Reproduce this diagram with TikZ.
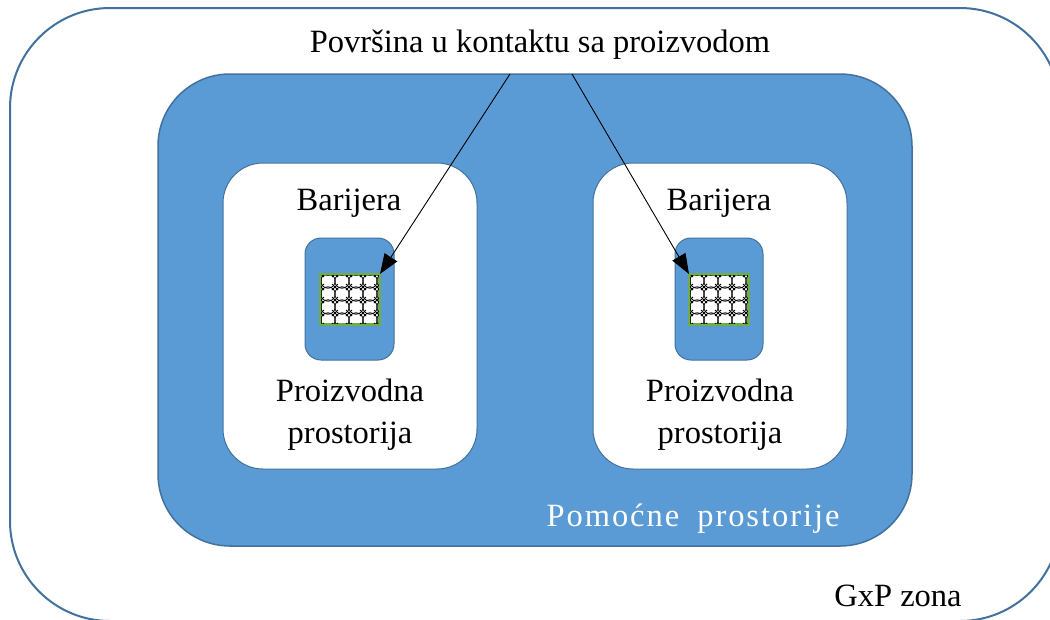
\documentclass[tikz,border=0pt]{standalone}
\usepackage{fontspec}
\setmainfont{Liberation Serif}
\usetikzlibrary{arrows.meta,calc}
\definecolor{fillblue}{HTML}{5B9BD5}
\definecolor{edgeblue}{HTML}{41719C}
\definecolor{hatchgreen}{HTML}{70AD47}
\tikzset{
  box/.style={draw=edgeblue, rectangle, inner sep=0pt},
  lbl/.style={font=\fontsize{32.5}{42}\selectfont, inner sep=0pt, align=center},
  hatchbox/.style={draw=hatchgreen, line width=2pt, rectangle, inner sep=0pt, minimum width=58pt, minimum height=49pt},
  arr/.style={draw=black, line width=0.9pt, -{Triangle[length=20pt,width=15pt]}}
}
\newcommand{\hatchfill}[1]{%
  \begin{scope}
    \clip (#1.south west) rectangle (#1.north east);
    \foreach \i in {-1,...,5}{
      \foreach \j in {-1,...,4}{
        \draw[black, line width=0.8pt] ($(#1.north west)+(\i*14+8,\j*13+7)$) circle[radius=7.2pt];
        \draw[black, line width=0.8pt] ($(#1.north west)+(\i*14+1-3,\j*13-3)$) -- ++(6,6)
          ($(#1.north west)+(\i*14+1+3,\j*13-3)$) -- ++(-6,6);
        \fill[black] ($(#1.north west)+(\i*14+1,\j*13)$) circle[radius=1.2pt];
      }
    }
  \end{scope}
  \draw[hatchgreen, line width=2pt] (#1.south west) rectangle (#1.north east);
}
\begin{document}
\begin{tikzpicture}[x=1pt,y=-1pt]
\useasboundingbox (0,0) rectangle (1050,619);
\clip (0,0) rectangle (1050,619);
% outer GxP zone
\node[box, line width=2pt, fill=white, rounded corners=100pt, minimum width=1050pt, minimum height=613pt] (outer) at (535,314.5) {};
% blue auxiliary rooms
\node[box, line width=1.5pt, fill=fillblue, rounded corners=72pt, minimum width=754pt, minimum height=472pt] (aux) at (535,310) {};
% white production rooms
\node[box, line width=1pt, fill=white, rounded corners=40pt, minimum width=254pt, minimum height=306pt] (roomL) at (350,316) {};
\node[box, line width=1pt, fill=white, rounded corners=40pt, minimum width=254pt, minimum height=306pt] (roomR) at (720,316) {};
% barrier boxes
\node[box, line width=1pt, fill=fillblue, rounded corners=16pt, minimum width=89pt, minimum height=122pt] (barL) at (349.5,299) {};
\node[box, line width=1pt, fill=fillblue, rounded corners=16pt, minimum width=88pt, minimum height=122pt] (barR) at (719,299) {};
% contact surfaces
\node[hatchbox, fill=white] (hL) at (350,299.5) {};
\node[hatchbox, fill=white] (hR) at (719,299.5) {};
\hatchfill{hL}
\hatchfill{hR}
% texts
\node[lbl] (top) at (540,45) {Površina u kontaktu sa proizvodom};
\node[lbl] (barijeraL) at (349,203) {Barijera};
\node[lbl] (barijeraR) at (719,203) {Barijera};
\node[lbl] (prodL) at (350,415) {Proizvodna\\prostorija};
\node[lbl] (prodR) at (720,415) {Proizvodna\\prostorija};
\node[lbl, text=white] (pom) at (693,519) {\addfontfeature{LetterSpace=6}Pomoćne\hspace{8pt} prostorije};
\node[lbl] (gxp) at (898,596) {GxP zona};
% arrows
\coordinate (s1) at (510,74);
\coordinate (s2) at (572,74);
\draw[arr] (s1) -- (hL.north east);
\draw[arr] (s2) -- (hR.north west);
\end{tikzpicture}
\end{document}
